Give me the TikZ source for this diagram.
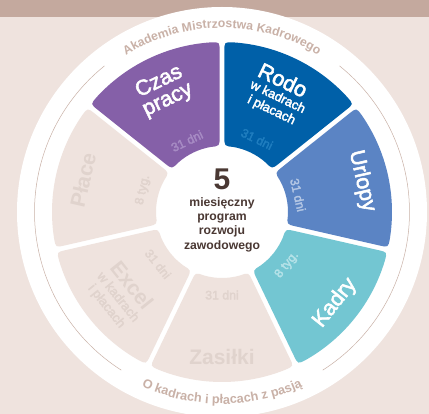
\documentclass[tikz,border=0pt]{standalone}
\usepackage{fontspec}
\setmainfont{Liberation Sans}
\newfontfamily\medf[FakeBold=2.5]{Liberation Sans}
\usetikzlibrary{decorations.text}
\definecolor{bgc}{HTML}{EFE3DE}
\definecolor{barc}{HTML}{C4A99E}
\definecolor{ringtxt}{HTML}{C9B1A7}
\definecolor{fadetxt}{HTML}{E0D3CD}
\definecolor{purplec}{HTML}{8560A8}
\definecolor{purpletxt}{HTML}{A78BC4}
\definecolor{bluec}{HTML}{0060A8}
\definecolor{bluetxt}{HTML}{1F7DBF}
\definecolor{urlc}{HTML}{5B84C4}
\definecolor{urltxt}{HTML}{B3C6E4}
\definecolor{kadc}{HTML}{73C6D2}
\definecolor{kadtxt}{HTML}{B5E2E8}
\definecolor{darkc}{HTML}{4A3833}
% 1px = 1pt; origin at wheel centre
\newcommand{\wheelseg}[3]{%
 \pgfmathsetmacro{\Ro}{170}\pgfmathsetmacro{\Ri}{66}\pgfmathsetmacro{\gp}{2.4}\pgfmathsetmacro{\rr}{9}%
 \pgfmathsetmacro{\ao}{#1+asin(\gp/\Ro)}\pgfmathsetmacro{\bo}{#2-asin(\gp/\Ro)}%
 \pgfmathsetmacro{\ai}{#1+asin(\gp/\Ri)}\pgfmathsetmacro{\bi}{#2-asin(\gp/\Ri)}%
 \pgfmathsetmacro{\dao}{\rr/\Ro*57.3}\pgfmathsetmacro{\dai}{\rr/\Ri*57.3}%
 \pgfmathsetmacro{\aob}{#1+asin(\gp/(\Ro-\rr))}\pgfmathsetmacro{\bob}{#2-asin(\gp/(\Ro-\rr))}%
 \pgfmathsetmacro{\aib}{#1+asin(\gp/(\Ri+\rr))}\pgfmathsetmacro{\bib}{#2-asin(\gp/(\Ri+\rr))}%
 \pgfmathsetmacro{\aos}{\ao+\dao}\pgfmathsetmacro{\boe}{\bo-\dao}%
 \pgfmathsetmacro{\ais}{\ai+\dai}\pgfmathsetmacro{\bie}{\bi-\dai}%
 \fill[#3] (\aob:\Ro-\rr) .. controls (\ao:\Ro) .. (\aos:\Ro)
   arc[start angle=\aos,end angle=\boe,radius=\Ro]
   .. controls (\bo:\Ro) .. (\bob:\Ro-\rr)
   -- (\bib:\Ri+\rr) .. controls (\bi:\Ri) .. (\bie:\Ri)
   arc[start angle=\bie,end angle=\ais,radius=\Ri]
   .. controls (\ai:\Ri) .. (\aib:\Ri+\rr) -- cycle;}
\begin{document}
\begin{tikzpicture}[x=1pt,y=1pt,
  big/.style={font=\fontsize{21.5}{21}\medf,inner sep=0pt,align=center},
  fadebig/.style={font=\fontsize{21}{21}\selectfont\bfseries,inner sep=0pt,align=center},
  small/.style={font=\fontsize{13}{14.5}\medf,inner sep=0pt,align=center},
  days/.style={font=\fontsize{12.3}{13}\medf,inner sep=0pt},
  ringtext/.style={decorate,decoration={text along path,text align=center,
     text={|\fontsize{12.3}{13}\selectfont\bfseries\color{ringtxt}|#1}}},
  ringtextb/.style={decorate,decoration={text along path,text align=center,
     text={|\fontsize{12.7}{13}\selectfont\bfseries\color{ringtxt}|#1}}},
  thinarc/.style={draw=ringtxt,line width=0.5pt}]
\useasboundingbox (-222,-202) rectangle (207,212);
\fill[bgc] (-222,-202) rectangle (207,212);
\fill[barc] (-222,195) rectangle (207,212);
\begin{scope}
\clip (-222,-202) rectangle (207,212);
\fill[white] (0,0) circle[radius=205];
\end{scope}
\draw[thinarc] (128.8:187.5) arc[start angle=128.8,end angle=237.5,radius=187.5];
\draw[thinarc] (51.2:187.5) arc[start angle=51.2,end angle=-57.5,radius=187.5];
\wheelseg{38.57}{90}{bluec}
\wheelseg{90}{141.43}{purplec}
\wheelseg{141.43}{192.86}{bgc}
\wheelseg{192.86}{244.29}{bgc}
\wheelseg{244.29}{295.71}{bgc}
\wheelseg{-64.29}{-12.86}{kadc}
\wheelseg{-12.86}{38.57}{urlc}
% ring texts
\path[ringtext={Akademia Mistrzostwa Kadrowego}] (140:184) arc[start angle=140,end angle=40,radius=184];
\path[ringtextb={O kadrach i płacach z pasją}] (-130:192) arc[start angle=-130,end angle=-50,radius=192];
% centre
\node[inner sep=0pt,font=\fontsize{30}{30}\selectfont\bfseries,text=darkc] (five) at (0,33) {5};
\node[inner sep=0pt,align=center,font=\fontsize{12.2}{14.4}\selectfont\bfseries,text=darkc] (prog) at (0,-12.5) {miesięczny\\program\\rozwoju\\zawodowego};
% Czas pracy
\node[big,white,rotate=25.7] (czas) at (-58.5,121) {Czas\\[-1pt]pracy};
\node[days,purpletxt,rotate=25.7] (czasd) at (-35,71) {31 dni};
% Rodo
\node[big,white,rotate=-25.7] (rodo) at (61,132) {Rodo};
\node[small,white,rotate=-25.7] (rodos) at (52.5,108) {w kadrach\\i płacach};
\node[days,bluetxt,rotate=-25.7] (rodod) at (35,73) {31 dni};
% Urlopy
\node[big,white,rotate=-77.14] (url) at (140,31) {Urlopy};
\node[days,urltxt,rotate=-77.14] (urld) at (76,17) {31 dni};
% Kadry
\node[big,white,rotate=51.43] (kad) at (113,-91) {Kadry};
\node[days,kadtxt,rotate=51.43] (kadd) at (65,-53) {8 tyg.};
% Zasiłki
\node[fadebig,text=fadetxt] (zas) at (0,-145) {Zasiłki};
\node[days,fadetxt] (zasd) at (0,-83) {31 dni};
% Excel
\node[fadebig,text=fadetxt,rotate=-51.43] (exc) at (-90,-73) {Excel};
\node[small,fadetxt,rotate=-51.43] (excs) at (-110,-90) {w kadrach\\i płacach};
\node[days,fadetxt,rotate=-51.43] (excd) at (-64,-52) {31 dni};
% Płace
\node[fadebig,text=fadetxt,rotate=77.14] (pl) at (-139,32) {Płace};
\node[days,fadetxt,rotate=77.14] (pld) at (-79,22) {8 tyg.};
\end{tikzpicture}
\end{document}
